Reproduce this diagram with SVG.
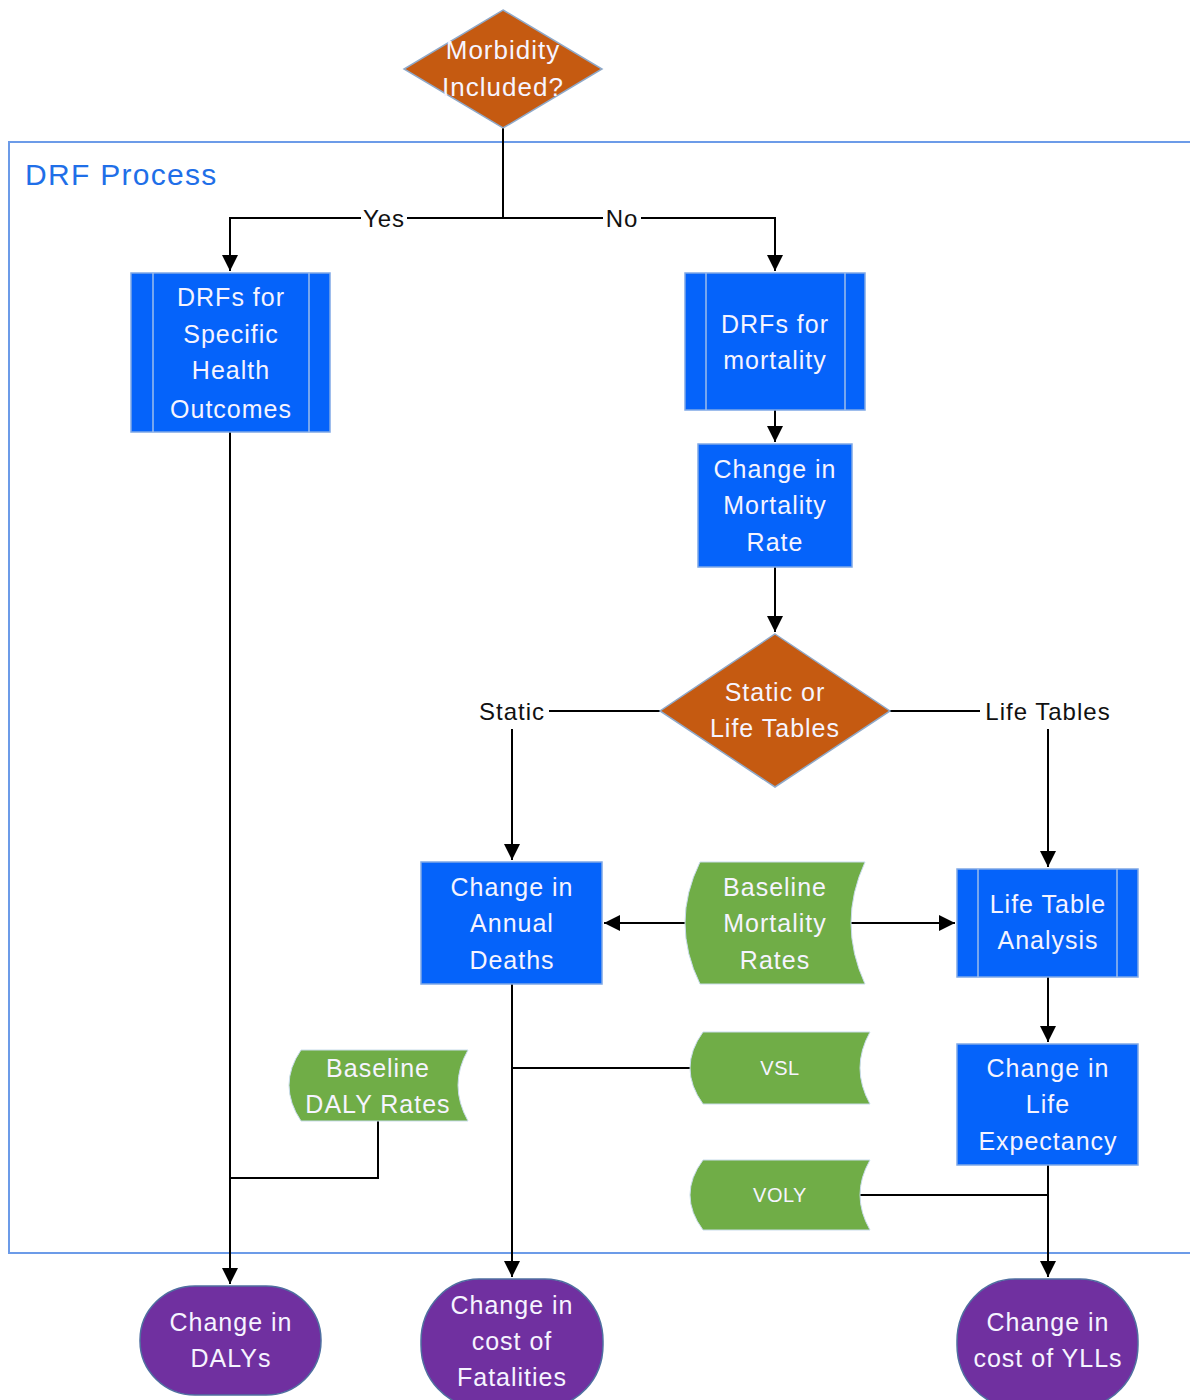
<svg xmlns="http://www.w3.org/2000/svg" width="1190" height="1400" viewBox="0 0 1190 1400">
<style>
  .t{font-family:"Liberation Sans",Arial,sans-serif;font-size:25px;letter-spacing:1px;fill:#F6F4FF;text-anchor:middle}
  .sm{font-size:20px;letter-spacing:0.5px}
  .lbl{font-family:"Liberation Sans",Arial,sans-serif;font-size:24px;letter-spacing:1px;fill:#111;text-anchor:middle}
  .blue{fill:#0563FA;stroke:#7FA8E6;stroke-width:1.5}
  .inner{stroke:#9DBCEB;stroke-width:1.5}
  .orange{fill:#C55A11;stroke:#8FA9C9;stroke-width:1.5}
  .green{fill:#70AD47;stroke:#C9DCEB;stroke-width:1}
  .purple{fill:#7030A0;stroke:#4F6FA0;stroke-width:1.5}
  .c{fill:none;stroke:#000;stroke-width:2}
</style>
<defs>
  <marker id="arr" markerUnits="userSpaceOnUse" markerWidth="16" markerHeight="16" viewBox="0 0 10 10" refX="10" refY="5" orient="auto">
    <path d="M0,0 L10,5 L0,10 z" fill="#000"/>
  </marker>
</defs>
<rect width="1190" height="1400" fill="#fff"/>

<g id="container">
  <rect x="9" y="142" width="1200" height="1111" fill="none" stroke="#6C9BE8" stroke-width="2"/>
  <text x="25" y="185" style="font-family:'Liberation Sans',Arial,sans-serif;font-size:30px;letter-spacing:1.3px;fill:#1F6FE8">DRF Process</text>
</g>

<g id="connectors">
  <polyline class="c" points="503,128 503,218"/>
  <polyline class="c" points="503,218 230,218 230,271" marker-end="url(#arr)"/>
  <polyline class="c" points="503,218 775,218 775,271" marker-end="url(#arr)"/>
  <polyline class="c" points="775,410 775,442" marker-end="url(#arr)"/>
  <polyline class="c" points="775,567 775,632" marker-end="url(#arr)"/>
  <polyline class="c" points="660,711 512,711 512,860" marker-end="url(#arr)"/>
  <polyline class="c" points="890,711 1048,711 1048,867" marker-end="url(#arr)"/>
  <polyline class="c" points="685,923 604,923" marker-end="url(#arr)"/>
  <polyline class="c" points="851,923 955,923" marker-end="url(#arr)"/>
  <polyline class="c" points="1048,977 1048,1042" marker-end="url(#arr)"/>
  <polyline class="c" points="230,432 230,1284" marker-end="url(#arr)"/>
  <polyline class="c" points="378,1121 378,1178 230,1178"/>
  <polyline class="c" points="512,984 512,1277" marker-end="url(#arr)"/>
  <polyline class="c" points="690,1068 512,1068"/>
  <polyline class="c" points="1048,1165 1048,1277" marker-end="url(#arr)"/>
  <polyline class="c" points="860,1195 1048,1195"/>
  <rect x="361" y="205" width="46" height="26" fill="#fff"/>
  <text class="lbl" x="384" y="227">Yes</text>
  <rect x="603" y="205" width="38" height="26" fill="#fff"/>
  <text class="lbl" x="622" y="227">No</text>
  <rect x="475" y="697" width="74" height="32" fill="#fff"/>
  <text class="lbl" x="512" y="720">Static</text>
  <rect x="980" y="697" width="137" height="32" fill="#fff"/>
  <text class="lbl" x="1048" y="720">Life Tables</text>
</g>

<g id="n-morbidity">
  <polygon class="orange" points="503,10 602,69 503,128 404,69"/>
  <text class="t" x="503" y="59" style="font-size:26px">Morbidity</text>
  <text class="t" x="503" y="96" style="font-size:26px">Included?</text>
</g>

<g id="n-drf-specific">
  <rect class="blue" x="131" y="273" width="199" height="159"/>
  <line class="inner" x1="153" y1="273" x2="153" y2="432"/>
  <line class="inner" x1="309" y1="273" x2="309" y2="432"/>
  <text class="t" x="231" y="306">DRFs for</text>
  <text class="t" x="231" y="343">Specific</text>
  <text class="t" x="231" y="379">Health</text>
  <text class="t" x="231" y="418">Outcomes</text>
</g>

<g id="n-drf-mortality">
  <rect class="blue" x="685" y="273" width="180" height="137"/>
  <line class="inner" x1="706" y1="273" x2="706" y2="410"/>
  <line class="inner" x1="845" y1="273" x2="845" y2="410"/>
  <text class="t" x="775" y="333">DRFs for</text>
  <text class="t" x="775" y="369">mortality</text>
</g>

<g id="n-mortality-rate">
  <rect class="blue" x="698" y="444" width="154" height="123"/>
  <text class="t" x="775" y="478">Change in</text>
  <text class="t" x="775" y="514">Mortality</text>
  <text class="t" x="775" y="551">Rate</text>
</g>

<g id="n-static-or-life">
  <polygon class="orange" points="775,634 890,711 775,787 660,711"/>
  <text class="t" x="775" y="701">Static or</text>
  <text class="t" x="775" y="737">Life Tables</text>
</g>

<g id="n-annual-deaths">
  <rect class="blue" x="421" y="862" width="181" height="122"/>
  <text class="t" x="512" y="896">Change in</text>
  <text class="t" x="512" y="932">Annual</text>
  <text class="t" x="512" y="969">Deaths</text>
</g>

<g id="n-baseline-mortality">
  <path class="green" d="M700,862 H865 Q837,923 865,984 H700 Q670,923 700,862 Z"/>
  <text class="t" x="775" y="896">Baseline</text>
  <text class="t" x="775" y="932">Mortality</text>
  <text class="t" x="775" y="969">Rates</text>
</g>

<g id="n-life-table">
  <rect class="blue" x="957" y="869" width="181" height="108"/>
  <line class="inner" x1="978" y1="869" x2="978" y2="977"/>
  <line class="inner" x1="1117" y1="869" x2="1117" y2="977"/>
  <text class="t" x="1048" y="913">Life Table</text>
  <text class="t" x="1048" y="949">Analysis</text>
</g>

<g id="n-life-expectancy">
  <rect class="blue" x="957" y="1044" width="181" height="121"/>
  <text class="t" x="1048" y="1077">Change in</text>
  <text class="t" x="1048" y="1113">Life</text>
  <text class="t" x="1048" y="1150">Expectancy</text>
</g>

<g id="n-baseline-daly">
  <path class="green" d="M301,1050 H468 Q448,1085 468,1121 H301 Q277,1085 301,1050 Z"/>
  <text class="t" x="378" y="1077">Baseline</text>
  <text class="t" x="378" y="1113">DALY Rates</text>
</g>

<g id="n-vsl">
  <path class="green" d="M703,1032 H870 Q850,1068 870,1104 H703 Q677,1068 703,1032 Z"/>
  <text class="t sm" x="780" y="1075">VSL</text>
</g>

<g id="n-voly">
  <path class="green" d="M703,1160 H870 Q850,1195 870,1230 H703 Q677,1195 703,1160 Z"/>
  <text class="t sm" x="780" y="1202">VOLY</text>
</g>

<g id="n-dalys">
  <rect class="purple" x="140" y="1286" width="181" height="109" rx="55" ry="54"/>
  <text class="t" x="231" y="1331">Change in</text>
  <text class="t" x="231" y="1367">DALYs</text>
</g>

<g id="n-fatalities">
  <rect class="purple" x="421" y="1279" width="182" height="128" rx="58" ry="62"/>
  <text class="t" x="512" y="1314">Change in</text>
  <text class="t" x="512" y="1350">cost of</text>
  <text class="t" x="512" y="1386">Fatalities</text>
</g>

<g id="n-ylls">
  <rect class="purple" x="957" y="1279" width="181" height="128" rx="58" ry="62"/>
  <text class="t" x="1048" y="1331">Change in</text>
  <text class="t" x="1048" y="1367">cost of YLLs</text>
</g>
</svg>
